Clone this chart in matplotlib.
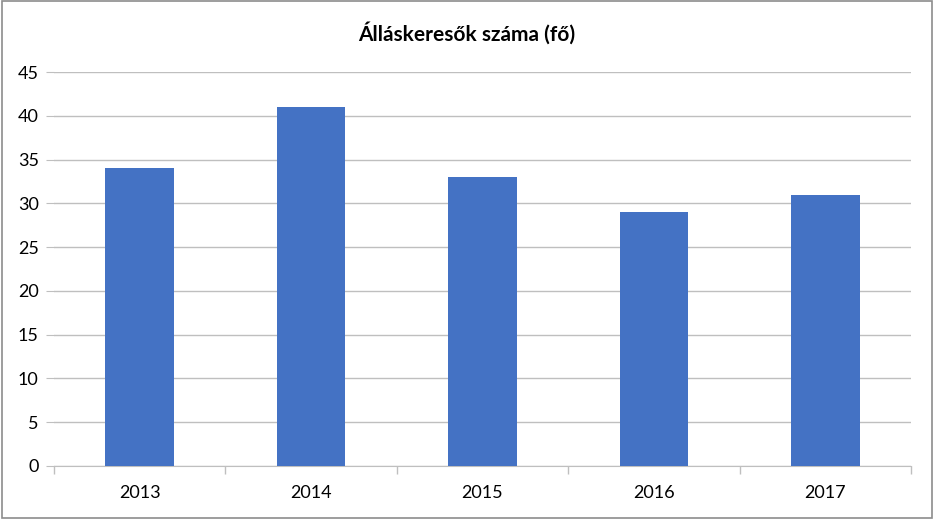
import matplotlib.pyplot as plt
from matplotlib.patches import Rectangle
import numpy as np

years = ['2013', '2014', '2015', '2016', '2017']
values = [34, 41, 33, 29, 31]
yticks = [0, 5, 10, 15, 20, 25, 30, 35, 40, 45]

plt.rcParams['font.family'] = ['Lato', 'DejaVu Sans']

fig = plt.figure(figsize=(9.34, 5.2), dpi=100)
ax = fig.add_axes([54/934, 1-466/520, (911-54)/934, (466-72)/520])

x = np.arange(len(years))
ax.bar(x, values, width=0.4, color='#4472C4', zorder=3)

ax.set_xlim(-0.5, len(years) - 0.5)
ax.set_ylim(0, 45)
ax.set_yticks(yticks)
ax.set_yticklabels([str(v) for v in yticks], fontsize=13)
ax.grid(axis='y', color='#bfbfbf', linewidth=1, zorder=0)
ax.tick_params(axis='y', length=6, color='#bfbfbf', pad=5)

# category labels at centres, tick marks at boundaries
ax.set_xticks(x)
ax.set_xticklabels(years, fontsize=13)
ax.tick_params(axis='x', length=0, pad=14)
ax.set_xticks(np.arange(-0.5, len(years)), minor=True)
ax.tick_params(axis='x', which='minor', length=6, color='#bfbfbf', width=1)

for s in ['top', 'right', 'left']:
    ax.spines[s].set_visible(False)
ax.spines['bottom'].set_color('#bfbfbf')

fig.text(0.5, 1-33/520, 'Álláskeresők száma (fő)', ha='center', va='center',
         fontsize=15, fontweight='bold')

fig.patches.append(Rectangle((0.002, 0.004), 0.996, 0.994, transform=fig.transFigure,
                             fill=False, edgecolor='#8c8c8c', linewidth=1.2))

fig.savefig('out.png', dpi=100)
